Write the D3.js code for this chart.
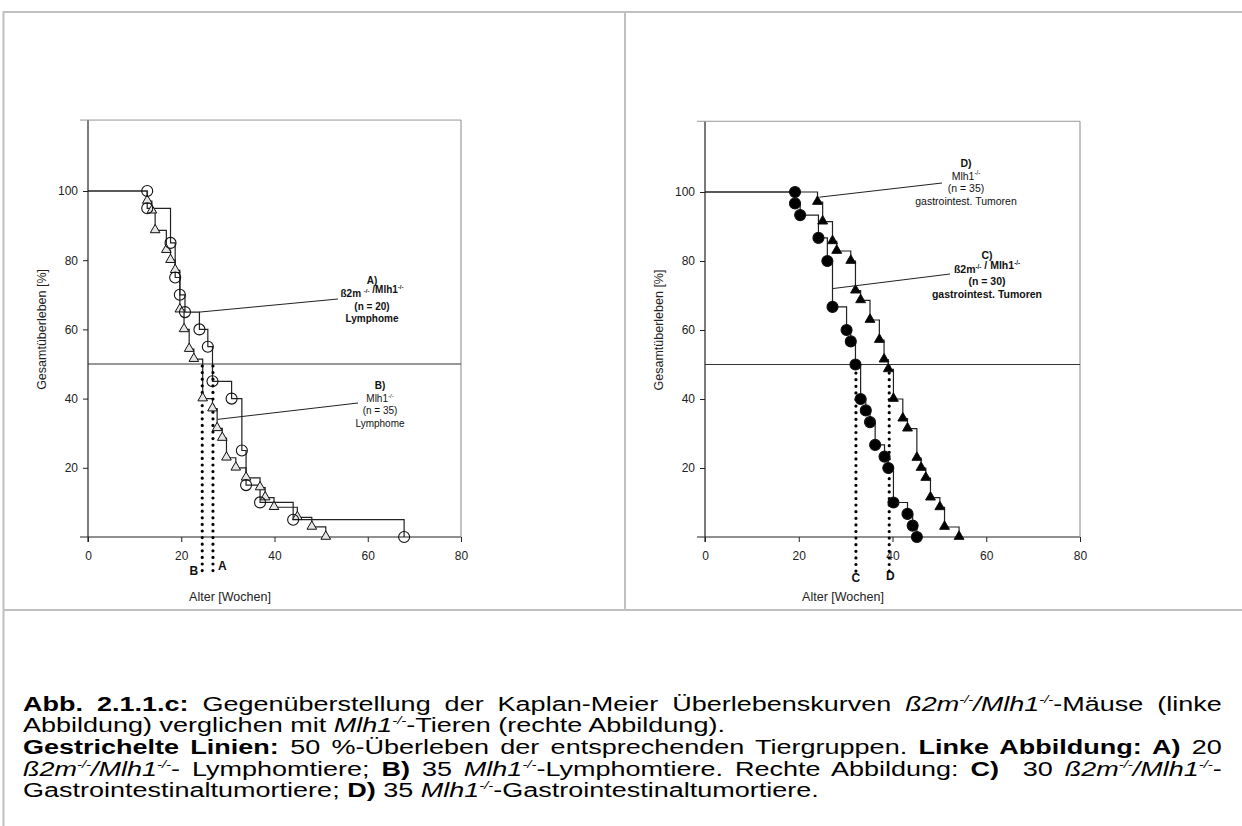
<!DOCTYPE html>
<html lang="de">
<head>
<meta charset="UTF-8">
<title>Kaplan-Meier Überlebenskurven</title>
<script src="https://cdn.jsdelivr.net/npm/d3@7"></script>
<style>
    body { margin: 0; background: #fff; }
    #wrap { position: relative; width: 1242px; height: 826px; overflow: hidden; }
    svg { position: absolute; left: 0; top: 0; }
    /* caption text in the reference is horizontally wide: narrow box, stretched */
    .cap { position: absolute; left: 23px; width: 888px; font-family: "Liberation Sans", Arial, sans-serif;
           font-size: 20px; line-height: 20px; color: #000; white-space: normal;
           transform: scaleX(1.35); transform-origin: 0 0; }
    .cap.just { text-align: justify; text-align-last: justify; }
    .cap sup { font-size: 11px; line-height: 0; vertical-align: 8px; }
</style>
</head>
<body>
<div id="wrap"></div>

<script>

    // ticks
    const weekTicks = [0, 20, 40, 60, 80];
    const pctTicks = [20, 40, 60, 80, 100];

    // left figure: A) ß2m-/-/Mlh1-/- (n = 20), B) Mlh1-/- (n = 35), lymphomas
    // [week, survival %] - first point is the start, no symbol
    const curveA = [[0, 100], [12.7, 100], [12.7, 95], [17.7, 85], [18.7, 75], [19.7, 70], [20.8, 65],
        [23.9, 60], [25.7, 55], [26.7, 45], [30.8, 40], [33.0, 25], [33.9, 15], [36.9, 10],
        [44.0, 5], [67.8, 0]];
    const curveB = [[0, 100], [12.7, 97.1], [13.7, 94.3], [14.4, 88.6], [16.8, 82.9], [17.7, 80],
        [18.7, 77.1], [19.7, 65.7], [20.6, 60], [21.7, 54.3], [22.7, 51.4], [24.6, 40], [26.7, 37.1],
        [27.7, 31.4], [28.8, 28.6], [29.7, 22.9], [31.7, 20], [33.9, 17.1], [36.9, 14.3], [38.0, 11.4],
        [39.9, 8.6], [44.9, 5.7], [48.0, 2.9], [51.0, 0]];

    // right figure: C) ß2m-/-/Mlh1-/- (n = 30), D) Mlh1-/- (n = 35), gastrointestinal tumours
    const curveC = [[0, 100], [19.2, 100], [19.2, 96.7], [20.3, 93.3], [24.2, 86.7], [26.1, 80],
        [27.2, 66.7], [30.2, 60], [31.1, 56.7], [32.1, 50], [33.2, 40], [34.3, 36.7], [35.2, 33.3],
        [36.3, 26.7], [38.3, 23.3], [39.1, 20], [40.2, 10], [43.2, 6.7], [44.3, 3.3], [45.2, 0]];
    const curveD = [[0, 100], [24.0, 97.1], [25.1, 91.4], [27.2, 85.7], [28.1, 82.9], [31.1, 80],
        [32.1, 71.4], [33.2, 68.6], [35.2, 62.9], [37.2, 57.1], [38.2, 51.4], [39.1, 48.6], [40.2, 40],
        [42.2, 34.3], [43.2, 31.4], [45.2, 22.9], [46.1, 20], [47.1, 17.1], [48.1, 11.4], [50.1, 8.6],
        [51.1, 2.9], [54.2, 0]];

    // median survival (50 %) in weeks
    const mediansLeft = [["B", 24.5], ["A", 26.8]];
    const mediansRight = [["C", 32.2], ["D", 39.3]];
    const halfLine = 50;

    const font = '"Liberation Sans", Arial, sans-serif';
    const W = 1242, H = 826;

    const svg = d3.select("#wrap").append("svg")
        .attr("width", W).attr("height", H);

    // table frame
    const grid = svg.append("g").attr("stroke", "#c0c0c0").attr("stroke-width", 2);
    grid.append("line").attr("x1", 3).attr("x2", W).attr("y1", 12).attr("y2", 12);
    grid.append("line").attr("x1", 3.5).attr("x2", 3.5).attr("y1", 11).attr("y2", H);
    grid.append("line").attr("x1", 625).attr("x2", 625).attr("y1", 11).attr("y2", 610);
    grid.append("line").attr("x1", 3).attr("x2", W).attr("y1", 610).attr("y2", 610);

    function supText(sel, parts, size) {
        // parts: [text, isSup]
        parts.forEach(function(p) {
            sel.append("tspan")
                .attr("font-size", p[1] ? size * 0.6 : size)
                .attr("dy", p[1] ? -size * 0.4 : 0)
                .text(p[0]);
            if (p[1]) sel.append("tspan").attr("dy", size * 0.4).text("");
        });
    }

    function panel(cfg) {
        const x = d3.scaleLinear().domain([0, 80]).range(cfg.xr);
        const y = d3.scaleLinear().domain([0, 100]).range(cfg.yr);
        const g = svg.append("g");

        // axes
        g.append("g")
            .attr("transform", "translate(" + x(0) + ",0)")
            .call(d3.axisLeft(y).tickValues(pctTicks).tickSize(5).tickPadding(5))
            .call(function(a) { a.select(".domain").remove(); })
            .selectAll("text").attr("font-family", font).attr("font-size", 12).attr("fill", "#222");
        g.append("g")
            .attr("transform", "translate(0," + y(0) + ")")
            .call(d3.axisBottom(x).tickValues(weekTicks).tickSize(5).tickPadding(9))
            .call(function(a) { a.select(".domain").remove(); })
            .selectAll("text").attr("font-family", font).attr("font-size", 12).attr("fill", "#222");
        g.selectAll(".tick line").attr("stroke", "#222");

        // axis lines and light plot frame
        const top = y(120.5);
        const ax = g.append("g").attr("stroke", "#222").attr("stroke-width", 1.2);
        ax.append("line").attr("x1", x(0)).attr("x2", x(0)).attr("y1", top).attr("y2", y(0) + 5);
        ax.append("line").attr("x1", x(0) - 8).attr("x2", x(80)).attr("y1", y(0)).attr("y2", y(0));
        g.append("line").attr("stroke", "#999").attr("stroke-width", 1)
            .attr("x1", x(0) - 8).attr("x2", x(80)).attr("y1", top).attr("y2", top);
        g.append("line").attr("stroke", "#888").attr("stroke-width", 1)
            .attr("x1", x(80)).attr("x2", x(80)).attr("y1", top).attr("y2", y(0));

        // 50 % line
        g.append("line").attr("stroke", "#333").attr("stroke-width", 1)
            .attr("x1", x(0)).attr("x2", x(80)).attr("y1", y(halfLine)).attr("y2", y(halfLine));

        // axis titles
        g.append("text").attr("x", cfg.xTitle).attr("y", 601).attr("text-anchor", "middle")
            .attr("font-family", font).attr("font-size", 12.5).attr("fill", "#222").text("Alter [Wochen]");
        g.append("text").attr("transform", "translate(" + (x(0) - 42) + "," + y(60) + ") rotate(-90)")
            .attr("text-anchor", "middle").attr("font-family", font).attr("font-size", 12.5).attr("fill", "#222")
            .text("Gesamtüberleben [%]");

        // step curves
        const line = d3.line().x(d => x(d[0])).y(d => y(d[1])).curve(d3.curveStepAfter);
        cfg.curves.forEach(function(c) {
            g.append("path").datum(c.data).attr("d", line)
                .attr("fill", "none").attr("stroke", "#222").attr("stroke-width", 1.2);
        });

        // median dotted lines
        cfg.medians.forEach(function(m) {
            g.append("line")
                .attr("x1", x(m[1])).attr("x2", x(m[1]))
                .attr("y1", y(halfLine) + 2).attr("y2", cfg.dotEnd)
                .attr("stroke", "#000").attr("stroke-width", 3.2)
                .attr("stroke-linecap", "round").attr("stroke-dasharray", "0,6.6");
            const lp = cfg.medLabel[m[0]];
            g.append("text").attr("x", x(m[1]) + lp[0]).attr("y", lp[1])
                .attr("text-anchor", lp[2]).attr("font-family", font).attr("font-weight", "bold")
                .attr("font-size", 12).attr("fill", "#111").text(m[0]);
        });

        // symbols
        cfg.curves.forEach(function(c) {
            const pts = c.data.slice(1);
            if (c.shape === "circle") {
                g.selectAll(null).data(pts).join("circle")
                    .attr("cx", d => x(d[0])).attr("cy", d => y(d[1])).attr("r", 5.5)
                    .attr("fill", c.fill).attr("stroke", "#111").attr("stroke-width", 1.1);
            } else {
                g.selectAll(null).data(pts).join("path")
                    .attr("transform", d => "translate(" + x(d[0]) + "," + (y(d[1]) - 0.5) + ")")
                    .attr("d", d3.symbol(d3.symbolTriangle, c.size))
                    .attr("fill", c.fill).attr("stroke", "#111").attr("stroke-width", 1);
            }
        });

        // annotations
        cfg.notes.forEach(function(n) {
            g.append("line").attr("stroke", "#222").attr("stroke-width", 1)
                .attr("x1", x(n.from[0])).attr("y1", y(n.from[1]))
                .attr("x2", n.to[0]).attr("y2", n.to[1]);
            n.lines.forEach(function(l, i) {
                const t = g.append("text").attr("x", n.cx).attr("y", n.ys[i])
                    .attr("text-anchor", "middle").attr("font-family", font)
                    .attr("font-weight", l.bold ? "bold" : "normal").attr("fill", "#111")
                    .attr("font-size", n.size);
                supText(t, l.parts, n.size);
            });
        });
    }

    const sup = "-/-";

    panel({
        xr: [88, 461], yr: [537, 191], xTitle: 230, dotEnd: 572,
        curves: [
            {data: curveB, shape: "triangle", fill: "#e6e6e6", size: 40},
            {data: curveA, shape: "circle", fill: "none"}
        ],
        medians: mediansLeft,
        medLabel: {B: [-4, 575, "end"], A: [5, 570, "start"]},
        notes: [
            {from: [23.9, 65], to: [338, 299], cx: 372, ys: [284, 297, 310, 322], size: 10,
                lines: [
                    {bold: true, parts: [["A)", 0]]},
                    {bold: true, parts: [["ß2m ", 0], [sup, 1], [" /Mlh1", 0], [sup, 1]]},
                    {bold: true, parts: [["(n = 20)", 0]]},
                    {bold: true, parts: [["Lymphome", 0]]}
                ]},
            {from: [27.8, 34], to: [358, 403], cx: 380, ys: [389, 401.5, 414, 426.5], size: 10,
                lines: [
                    {bold: true, parts: [["B)", 0]]},
                    {bold: false, parts: [["Mlh1", 0], [sup, 1]]},
                    {bold: false, parts: [["(n = 35)", 0]]},
                    {bold: false, parts: [["Lymphome", 0]]}
                ]}
        ]
    });

    panel({
        xr: [705, 1080], yr: [537, 192], xTitle: 843, dotEnd: 575,
        curves: [
            {data: curveD, shape: "triangle", fill: "#000", size: 42},
            {data: curveC, shape: "circle", fill: "#000"}
        ],
        medians: mediansRight,
        medLabel: {C: [0, 582, "middle"], D: [1, 580, "middle"]},
        notes: [
            {from: [24.4, 98.5], to: [942, 183], cx: 966, ys: [167, 179.5, 192, 205], size: 10.5,
                lines: [
                    {bold: true, parts: [["D)", 0]]},
                    {bold: false, parts: [["Mlh1", 0], [sup, 1]]},
                    {bold: false, parts: [["(n = 35)", 0]]},
                    {bold: false, parts: [["gastrointest. Tumoren", 0]]}
                ]},
            {from: [27.2, 72], to: [950, 274], cx: 987, ys: [259, 273, 285, 298], size: 10.5,
                lines: [
                    {bold: true, parts: [["C)", 0]]},
                    {bold: true, parts: [["ß2m", 0], [sup, 1], [" / Mlh1", 0], [sup, 1]]},
                    {bold: true, parts: [["(n = 30)", 0]]},
                    {bold: true, parts: [["gastrointest. Tumoren", 0]]}
                ]}
        ]
    });

    // caption
    const s = "<sup>-/-</sup>";
    const captionLines = [
        {just: true, html: "<b>Abb. 2.1.1.c:</b> Gegenüberstellung der Kaplan-Meier Überlebenskurven <i>ß2m" + s + "/Mlh1" + s + "</i>-Mäuse (linke"},
        {just: false, html: "Abbildung) verglichen mit <i>Mlh1" + s + "</i>-Tieren (rechte Abbildung)."},
        {just: true, html: "<b>Gestrichelte Linien:</b> 50 %-Überleben der entsprechenden Tiergruppen. <b>Linke Abbildung: A)</b> 20"},
        {just: true, html: "<i>ß2m" + s + "/Mlh1" + s + "</i>- Lymphomtiere; <b>B)</b> 35 <i>Mlh1" + s + "</i>-Lymphomtiere. Rechte Abbildung: <b>C)</b>&nbsp; 30 <i>ß2m" + s + "/Mlh1" + s + "</i>-"},
        {just: false, html: "Gastrointestinaltumortiere; <b>D)</b> 35 <i>Mlh1" + s + "</i>-Gastrointestinaltumortiere."}
    ];
    const capTops = [694, 715, 737, 759, 780];

    d3.select("#wrap").selectAll("div.cap")
        .data(captionLines)
        .join("div")
        .attr("class", d => d.just ? "cap just" : "cap")
        .style("top", (d, i) => capTops[i] + "px")
        .html(d => d.html);

</script>

</body>
</html>
